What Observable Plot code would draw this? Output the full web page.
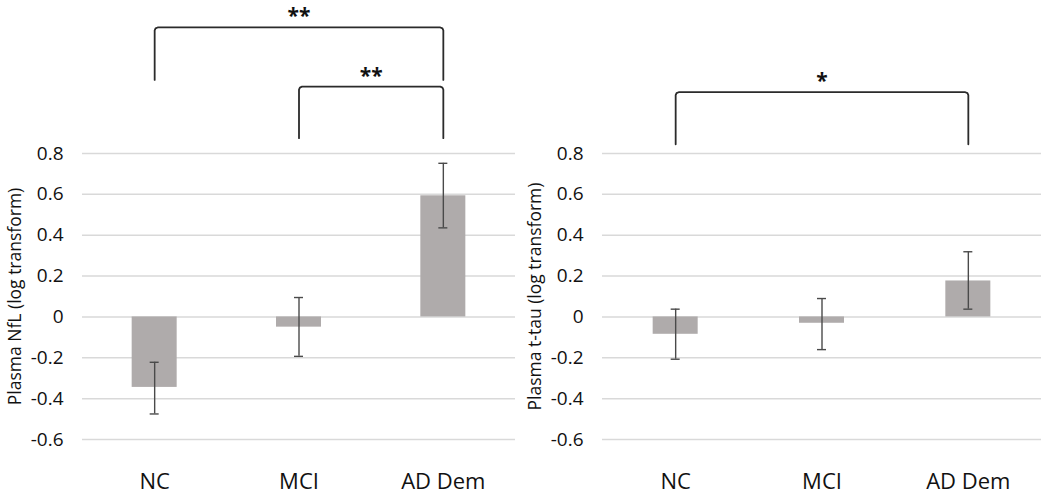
<!DOCTYPE html>
<html><head><meta charset="utf-8">
<script src="https://cdn.jsdelivr.net/npm/d3@7"></script>
<script src="https://cdn.jsdelivr.net/npm/@observablehq/plot@0.6"></script>
<style>
body{margin:0;background:#fff;}
#wrap{display:flex;width:1050px;height:498px;}
</style></head><body><div id="wrap"></div>
<script>
const categories = ["NC", "MCI", "AD Dem"];
const yTicks = [-0.6, -0.4, -0.2, 0, 0.2, 0.4, 0.6, 0.8];

const nflMean = [-0.345, -0.05, 0.593];
const nflLow  = [-0.475, -0.193, 0.436];
const nflHigh = [-0.222, 0.095, 0.752];

const tauMean = [-0.085, -0.031, 0.176];
const tauLow  = [-0.207, -0.16, 0.038];
const tauHigh = [0.038, 0.09, 0.319];

const nflBrackets = [
  {from: "NC", to: "AD Dem", top: 1.417, bottom: 1.16, label: "**"},
  {from: "MCI", to: "AD Dem", top: 1.127, bottom: 0.875, label: "**"}
];
const tauBrackets = [
  {from: "NC", to: "AD Dem", top: 1.10, bottom: 0.845, label: "*"}
];

const FONT = "'Open Sans', 'Noto Sans', sans-serif";
const TEXT = "#111";

function panel({mean, low, high, brackets, ylabel, width, marginRight}) {
  const height = 498, marginTop = 153, marginBottom = 59, marginLeft = 82;
  const unitPx = (width - marginLeft - marginRight) / categories.length;
  const pxPerY = (height - marginTop - marginBottom) / (yTicks[yTicks.length - 1] - yTicks[0]);
  const barHalf = 22.5 / unitPx;
  const capHalf = 4.5 / unitPx;
  const rx = 3 / unitPx, ry = 3 / pxPerY;

  const rows = categories.map((c, i) => ({i, cat: c, mean: mean[i], low: low[i], high: high[i]}));

  const bracketPts = [];
  brackets.forEach((b, k) => {
    const f = categories.indexOf(b.from), t = categories.indexOf(b.to);
    [[f, b.bottom], [f, b.top - ry], [f + rx * 0.3, b.top - ry * 0.3], [f + rx, b.top],
     [t - rx, b.top], [t - rx * 0.3, b.top - ry * 0.3], [t, b.top - ry], [t, b.bottom]]
      .forEach(([x, y]) => bracketPts.push({id: k, x, y}));
  });
  const bracketLabels = brackets.map(b => ({
    x: (categories.indexOf(b.from) + categories.indexOf(b.to)) / 2,
    y: b.top, label: b.label
  }));

  return Plot.plot({
    width, height, marginTop, marginBottom, marginLeft, marginRight,
    style: {fontFamily: FONT, fontSize: "19px", color: TEXT, background: "white", overflow: "visible"},
    x: {type: "linear", domain: [-0.5, categories.length - 0.5]},
    y: {domain: [yTicks[0], yTicks[yTicks.length - 1]]},
    marks: [
      Plot.gridY(yTicks, {stroke: "#d9d9d9", strokeOpacity: 1, strokeWidth: 1.5}),
      Plot.rectY(rows, {x1: d => d.i - barHalf, x2: d => d.i + barHalf, y1: 0, y2: "mean", fill: "#afabab"}),
      Plot.ruleX(rows, {x: "i", y1: "low", y2: "high", stroke: "#4a4a4a", strokeWidth: 1.4}),
      Plot.ruleY(rows, {y: "low", x1: d => d.i - capHalf, x2: d => d.i + capHalf, stroke: "#4a4a4a", strokeWidth: 1.4}),
      Plot.ruleY(rows, {y: "high", x1: d => d.i - capHalf, x2: d => d.i + capHalf, stroke: "#4a4a4a", strokeWidth: 1.4}),
      Plot.axisY({ticks: yTicks, tickSize: 0, tickPadding: 19, label: null, fontSize: 19,
        tickFormat: d => d === 0 ? "0" : d.toFixed(1)}),
      Plot.axisX({ticks: categories.map((c, i) => i), tickFormat: i => categories[i], tickSize: 0,
        tickPadding: 34, label: null, fontSize: 22}),
      Plot.text([ylabel], {text: d => d, frameAnchor: "left", rotate: -90, dx: -74,
        textAnchor: "middle", lineAnchor: "top", fontSize: 17.5, fill: TEXT}),
      Plot.line(bracketPts, {x: "x", y: "y", z: "id", curve: "linear", stroke: "#2b2b2b", strokeWidth: 1.8,
        strokeLinejoin: "round"}),
      Plot.text(bracketLabels, {x: "x", y: "y", text: "label", lineAnchor: "top", dy: -19,
        fontSize: 21, fontWeight: "bold", fill: TEXT})
    ]
  });
}

const wrap = document.getElementById("wrap");
wrap.append(panel({mean: nflMean, low: nflLow, high: nflHigh, brackets: nflBrackets,
  ylabel: "Plasma NfL (log transform)", width: 520, marginRight: 5}));
wrap.append(panel({mean: tauMean, low: tauLow, high: tauHigh, brackets: tauBrackets,
  ylabel: "Plasma t-tau (log transform)", width: 530, marginRight: 9}));
</script></body></html>
